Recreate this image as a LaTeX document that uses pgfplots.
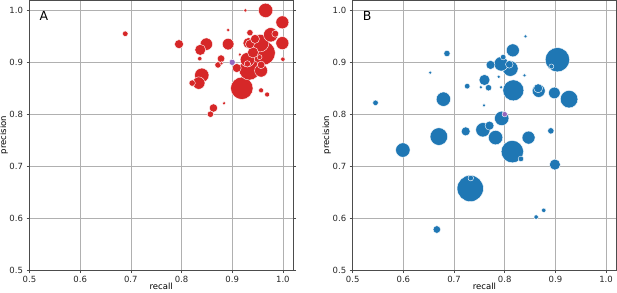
\documentclass[border=0pt]{standalone}
\usepackage{pgfplots}
\pgfplotsset{compat=1.18}
\usepackage{pgfplotstable}
\usepackage{fontspec}
\setmainfont{DejaVu Sans}
\definecolor{tred}{HTML}{D62728}
\definecolor{tblue}{HTML}{1F77B4}
\definecolor{tpurple}{HTML}{9467BD}
\definecolor{gridc}{HTML}{B0B0B0}
\pgfplotstableread{
x y r
0.961 0.918 11.7
0.919 0.850 10.7
0.934 0.886 10.0
0.955 0.937 8.3
0.840 0.875 6.7
0.966 1.000 6.7
0.976 0.953 6.7
0.930 0.905 6.7
0.999 0.977 6.0
0.999 0.937 6.0
0.957 0.884 6.0
0.849 0.935 5.7
0.834 0.860 5.7
0.892 0.935 5.3
0.837 0.924 5.0
0.932 0.937 5.0
0.941 0.919 5.0
0.795 0.935 4.0
0.909 0.889 4.0
0.935 0.935 4.0
0.945 0.945 4.0
0.863 0.812 3.7
0.878 0.907 3.3
0.957 0.895 3.3
0.985 0.955 3.0
0.821 0.860 2.7
0.857 0.800 2.7
0.872 0.895 2.7
0.935 0.957 2.7
0.930 0.897 2.7
0.689 0.955 2.3
0.954 0.910 2.0
0.957 0.846 2.0
0.969 0.838 2.0
0.836 0.907 1.7
1.000 0.906 1.7
0.884 0.821 1.3
0.879 0.898 1.3
0.892 0.962 1.3
0.926 1.000 1.3
0.915 0.915 1.3
}\dataA
\pgfplotstableread{
x y r
0.732 0.657 12.7
0.904 0.905 11.7
0.815 0.728 10.7
0.817 0.846 10.0
0.670 0.757 8.3
0.927 0.829 8.3
0.811 0.888 7.3
0.599 0.731 6.7
0.679 0.829 6.7
0.757 0.770 6.7
0.782 0.755 6.7
0.794 0.792 6.7
0.793 0.897 6.7
0.816 0.923 6.0
0.847 0.755 6.0
0.867 0.845 6.0
0.898 0.841 5.3
0.760 0.866 5.0
0.899 0.703 5.0
0.723 0.767 4.0
0.772 0.895 4.0
0.770 0.778 4.0
0.866 0.850 4.0
0.666 0.578 3.3
0.809 0.896 3.3
0.686 0.917 2.7
0.768 0.851 2.7
0.891 0.768 2.7
0.545 0.822 2.3
0.733 0.677 2.3
0.726 0.854 2.3
0.797 0.910 2.3
0.832 0.714 2.3
0.892 0.892 2.0
0.862 0.602 1.7
0.877 0.615 1.7
0.653 0.880 1.3
0.753 0.852 1.3
0.759 0.817 1.3
0.788 0.872 1.3
0.793 0.852 1.3
0.841 0.950 1.3
0.839 0.875 1.3
}\dataB
\pgfplotsset{
  panel/.style={
    scale only axis, width=263.5pt, height=270pt,
    xmin=0.5, xmax=1.02, ymin=0.5, ymax=1.02,
    xtick={0.5,0.6,...,1.0}, ytick={0.5,0.6,...,1.0},
    xticklabel style={/pgf/number format/.cd, fixed, fixed zerofill, precision=1},
    yticklabel style={/pgf/number format/.cd, fixed, fixed zerofill, precision=1},
    /pgf/number format/assume math mode=true,
    tick label style={font=\fontsize{8.5}{10}\selectfont, text=black!85},
    label style={font=\fontsize{8.5}{10}\selectfont},
    grid=major, grid style={gridc, line width=0.6pt},
    axis line style={black!70, line width=0.6pt},
    tick align=outside, major tick length=3pt,
    tick style={black!70, line width=0.6pt},
    xlabel={recall}, ylabel={precision},
    xlabel style={at={(axis description cs:0.5,0)}, anchor=base, yshift=-19.5pt},
    ylabel style={at={(axis description cs:0,0.5)}, anchor=base, yshift=23.5pt},
    clip=false,
  },
  bub/.style={scatter, only marks, mark=*,
    scatter/use mapped color={draw=white, fill=#1},
    visualization depends on={\thisrow{r}+0.5 \as \rr},
    scatter/@pre marker code/.append style={/tikz/mark size=\rr},
    mark options={line width=0.4pt}},
}
\begin{document}
\begin{tikzpicture}
\path[use as bounding box] (0,0) rectangle (617pt,292pt);
\begin{axis}[panel, at={(29.5pt,22pt)}, anchor=south west]
\addplot[bub=tred] table[x=x,y=y] {\dataA};
\addplot[only marks, mark=*, mark size=3.1, mark options={fill=tpurple, draw=white, line width=0.4pt}] coordinates {(0.9,0.9)};
\node[anchor=north west, font=\fontsize{12.5}{14}\selectfont] at (axis cs:0.513,1.005) {A};
\end{axis}
\begin{axis}[panel, at={(352.7pt,22pt)}, anchor=south west]
\addplot[bub=tblue] table[x=x,y=y] {\dataB};
\addplot[only marks, mark=*, mark size=2.7, mark options={fill=tpurple, draw=white, line width=0.4pt}] coordinates {(0.8,0.8)};
\node[anchor=north west, font=\fontsize{12.5}{14}\selectfont] at (axis cs:0.513,1.005) {B};
\end{axis}
\end{tikzpicture}
\end{document}
